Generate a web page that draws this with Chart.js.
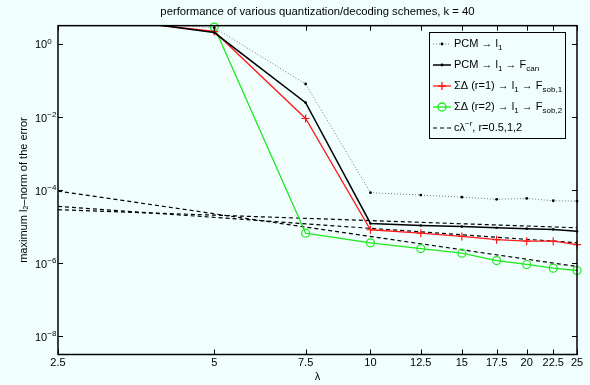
<!DOCTYPE html>
<html>
<head>
<meta charset="utf-8">
<script src="https://cdn.jsdelivr.net/npm/chart.js@4.4.1/dist/chart.umd.min.js"></script>
<style>
  html, body { margin: 0; padding: 0; background: #f0fefe; }
  #wrap { width: 590px; height: 385px; }
</style>
</head>
<body>
<div id="wrap"><canvas id="chart"></canvas></div>
<script>
// lambda values (x axis, log scale)
const lambdas = [2.5, 5, 7.5, 10, 12.5, 15, 17.5, 20, 22.5, 25];

// maximum l2-norm of the error
const pcmL1   = [4.8, 2.8, 0.080, 8.5e-5, 7.3e-5, 6.4e-5, 5.6e-5, 5.9e-5, 5.1e-5, 5.0e-5];
const pcmFcan = [7.7, 2.05, 0.0247, 1.22e-5, 1.07e-5, 1.0e-5, 9.3e-6, 8.8e-6, 8.4e-6, 7.5e-6];
const sd1Fsob = [6.7, 2.19, 0.0091, 8.2e-6, 6.6e-6, 5.4e-6, 4.4e-6, 4.0e-6, 4.0e-6, 3.2e-6];
const sd2Fsob = [null, 2.9, 6.6e-6, 3.6e-6, 2.5e-6, 1.88e-6, 1.18e-6, 9.2e-7, 7.3e-7, 6.3e-7];

// reference lines c*lambda^-r (end points only, they are straight on log-log)
const refX   = [2.5, 25];
const refR05 = [2.9e-5, 9.3e-6];
const refR1  = [3.57e-5, 3.6e-6];
const refR2  = [9.4e-5, 8.1e-7];

const yTicks = [1e-8, 1e-6, 1e-4, 1e-2, 1];

const FONT = "'Liberation Sans', Arial, Helvetica, sans-serif";
Chart.defaults.font.family = FONT;
Chart.defaults.color = '#000';

const pts = (xs, ys) => xs.map((x, i) => ({ x: x, y: ys[i] }));

// legend rows: [text, 0 normal / 1 subscript / 2 superscript]
const legendRows = [
  { kind: 'pcm',  runs: [['PCM \u2192 l', 0], ['1', 1]] },
  { kind: 'can',  runs: [['PCM \u2192 l', 0], ['1', 1], [' \u2192 F', 0], ['can', 1]] },
  { kind: 'sd1',  runs: [['\u03A3\u0394 (r=1) \u2192 l', 0], ['1', 1], [' \u2192 F', 0], ['sob,1', 1]] },
  { kind: 'sd2',  runs: [['\u03A3\u0394 (r=2) \u2192 l', 0], ['1', 1], [' \u2192 F', 0], ['sob,2', 1]] },
  { kind: 'dash', runs: [['c\u03BB', 0], ['\u2212r', 2], [', r=0.5,1,2', 0]] }
];

function drawRuns(ctx, runs, x, y) {
  ctx.textAlign = 'left';
  ctx.textBaseline = 'middle';
  runs.forEach(([t, mode]) => {
    ctx.font = (mode ? 8 : 11) + 'px ' + FONT;
    const dy = mode === 1 ? 4 : mode === 2 ? -4 : 0;
    ctx.fillText(t, x, y + dy);
    x += ctx.measureText(t).width;
  });
}

const matlabAxes = {
  id: 'matlabAxes',
  beforeDraw(chart) {
    const ctx = chart.ctx;
    ctx.save();
    ctx.fillStyle = '#f0fefe';
    ctx.fillRect(0, 0, chart.width, chart.height);
    ctx.restore();
  },
  afterDraw(chart) {
    const { ctx, chartArea: a } = chart;
    const xs = chart.scales.x, ys = chart.scales.y;
    ctx.save();
    // box
    ctx.strokeStyle = '#000';
    ctx.lineWidth = 1.5;
    ctx.strokeRect(a.left, a.top, a.right - a.left, a.bottom - a.top);
    // inward ticks
    ctx.lineWidth = 1;
    ctx.beginPath();
    lambdas.forEach(v => {
      const px = Math.round(xs.getPixelForValue(v)) + 0.5;
      ctx.moveTo(px, a.bottom); ctx.lineTo(px, a.bottom - 5);
      ctx.moveTo(px, a.top); ctx.lineTo(px, a.top + 5);
    });
    yTicks.forEach(v => {
      const py = Math.round(ys.getPixelForValue(v)) + 0.5;
      ctx.moveTo(a.left, py); ctx.lineTo(a.left + 5, py);
      ctx.moveTo(a.right, py); ctx.lineTo(a.right - 5, py);
    });
    ctx.stroke();
    // y tick labels 10^n
    ctx.fillStyle = '#000';
    yTicks.forEach(v => {
      const py = ys.getPixelForValue(v);
      const e = Math.round(Math.log10(v));
      drawRuns(ctx, [['10', 0], [e < 0 ? '\u2212' + (-e) : String(e), 2]], 35, py + 1.5);
    });
    // legend
    const L = 429.5, T = 32.5, W = 136, H = 106;
    ctx.fillStyle = '#f0fefe';
    ctx.fillRect(L, T, W, H);
    ctx.strokeStyle = '#000';
    ctx.lineWidth = 1;
    ctx.strokeRect(L, T, W, H);
    legendRows.forEach((row, i) => {
      const y = 44 + i * 21;
      const x1 = 433, x2 = 451, xm = 442;
      ctx.save();
      ctx.beginPath();
      if (row.kind === 'pcm') {
        ctx.strokeStyle = '#7a7a7a'; ctx.lineWidth = 1; ctx.setLineDash([1, 2]);
      } else if (row.kind === 'can') {
        ctx.strokeStyle = '#000'; ctx.lineWidth = 1.5;
      } else if (row.kind === 'sd1') {
        ctx.strokeStyle = '#ff1a1a'; ctx.lineWidth = 1.3;
      } else if (row.kind === 'sd2') {
        ctx.strokeStyle = '#1ee81e'; ctx.lineWidth = 1.3;
      } else {
        ctx.strokeStyle = '#000'; ctx.lineWidth = 1.2; ctx.setLineDash([4, 3]);
      }
      ctx.moveTo(x1, y); ctx.lineTo(x2, y);
      ctx.stroke();
      ctx.setLineDash([]);
      if (row.kind === 'pcm' || row.kind === 'can') {
        ctx.fillStyle = '#000';
        ctx.beginPath(); ctx.arc(xm, y, 1.4, 0, Math.PI * 2); ctx.fill();
      } else if (row.kind === 'sd1') {
        ctx.beginPath();
        ctx.moveTo(xm - 4, y); ctx.lineTo(xm + 4, y);
        ctx.moveTo(xm, y - 4); ctx.lineTo(xm, y + 4);
        ctx.stroke();
      } else if (row.kind === 'sd2') {
        ctx.beginPath(); ctx.arc(xm, y, 4, 0, Math.PI * 2); ctx.stroke();
      }
      ctx.restore();
      ctx.fillStyle = '#000';
      drawRuns(ctx, row.runs, 454, y);
    });
    ctx.restore();
  }
};

const edgeClip = { left: 0, top: 0, right: 8, bottom: 8 };

new Chart(document.getElementById('chart'), {
  type: 'line',
  data: {
    datasets: [
      {
        label: 'PCM \u2192 l1',
        data: pts(lambdas, pcmL1),
        borderColor: '#7a7a7a', borderWidth: 1, borderDash: [1, 2],
        pointRadius: 1.4, pointBackgroundColor: '#000', pointBorderWidth: 0,
        clip: edgeClip
      },
      {
        label: 'PCM \u2192 l1 \u2192 Fcan',
        data: pts(lambdas, pcmFcan),
        borderColor: '#000', borderWidth: 1.5,
        pointRadius: 1.3, pointBackgroundColor: '#000', pointBorderWidth: 0,
        clip: edgeClip
      },
      {
        label: '\u03A3\u0394 (r=1) \u2192 l1 \u2192 Fsob,1',
        data: pts(lambdas, sd1Fsob),
        borderColor: '#ff1a1a', borderWidth: 1.3,
        pointStyle: 'cross', pointRadius: 4, pointBorderColor: '#ff1a1a', pointBorderWidth: 1.2,
        clip: edgeClip
      },
      {
        label: '\u03A3\u0394 (r=2) \u2192 l1 \u2192 Fsob,2',
        data: pts(lambdas, sd2Fsob),
        borderColor: '#1ee81e', borderWidth: 1.3,
        pointStyle: 'circle', pointRadius: 4, pointBackgroundColor: 'rgba(0,0,0,0)',
        pointBorderColor: '#1ee81e', pointBorderWidth: 1.2,
        clip: false
      },
      {
        label: 'c\u03BB^-r, r=0.5',
        data: pts(refX, refR05),
        borderColor: '#000', borderWidth: 1.2, borderDash: [4, 3], pointRadius: 0, clip: 0
      },
      {
        label: 'c\u03BB^-r, r=1',
        data: pts(refX, refR1),
        borderColor: '#000', borderWidth: 1.2, borderDash: [4, 3], pointRadius: 0, clip: 0
      },
      {
        label: 'c\u03BB^-r, r=2',
        data: pts(refX, refR2),
        borderColor: '#000', borderWidth: 1.2, borderDash: [4, 3], pointRadius: 0, clip: 0
      }
    ]
  },
  options: {
    responsive: true,
    maintainAspectRatio: false,
    animation: false,
    spanGaps: false,
    layout: { padding: { left: 0, right: 13, top: 0, bottom: 0 } },
    plugins: {
      legend: { display: false },
      tooltip: { enabled: false },
      title: {
        display: true,
        fullSize: false,
        text: 'performance of various quantization/decoding schemes, k = 40',
        font: { size: 11.3, weight: 'normal' },
        color: '#000',
        padding: { top: 5, bottom: 7.1 }
      }
    },
    scales: {
      x: {
        type: 'logarithmic',
        bounds: 'data',
        min: 2.5, max: 25,
        afterBuildTicks: s => { s.ticks = lambdas.map(v => ({ value: v })); },
        afterFit: s => { s.height = 30.5; },
        grid: { display: false, drawTicks: false },
        border: { display: false },
        ticks: {
          autoSkip: false, maxRotation: 0, padding: 2,
          font: { size: 11 }, color: '#000',
          callback: v => String(v)
        },
        title: { display: true, text: '\u03BB', font: { size: 11 }, color: '#000', padding: { top: 0, bottom: 1 } }
      },
      y: {
        type: 'logarithmic',
        bounds: 'data',
        min: Math.pow(10, -8.5), max: Math.pow(10, 0.5),
        afterBuildTicks: s => { s.ticks = yTicks.map(v => ({ value: v })); },
        afterFit: s => { s.width = 58; },
        grid: { display: false, drawTicks: false },
        border: { display: false },
        ticks: { display: false },
        title: {
          display: true, text: 'maximum l\u2082\u2013norm of the error',
          font: { size: 11 }, color: '#000', padding: { top: 17, bottom: 0 }
        }
      }
    }
  },
  plugins: [matlabAxes]
});
</script>
</body>
</html>
